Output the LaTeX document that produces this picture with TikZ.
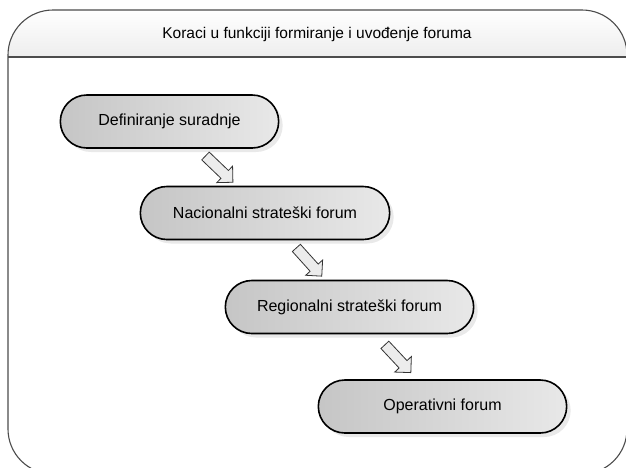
\documentclass[tikz,border=0pt]{standalone}
\usepackage{fontspec}
\setmainfont{Liberation Sans}
\usetikzlibrary{arrows,shapes.misc,shapes.arrows,shadows}

\tikzset{
  phase/.style={rounded rectangle, draw=black, line width=1.6pt,
                left color=gray!45, right color=gray!18,
                drop shadow={shadow xshift=4pt, shadow yshift=-4pt, fill=gray!50, opacity=.35},
                minimum height=53pt, font=\fontsize{16}{18}\selectfont},
  stepArrow/.style={single arrow, draw=black!80, line width=.8pt, fill=gray!15,
                    minimum height=38pt, inner sep=5pt, single arrow head extend=6pt}
}

\begin{document}
\begin{tikzpicture}[x=1pt,y=-1pt]
  \useasboundingbox (0,0) rectangle (626,467);
  \clip (0,0) rectangle (626,467);
  % frame with header
  \begin{scope}
    \clip[rounded corners=45pt] (8,10) rectangle (627,474);
    \shade[top color=white, bottom color=gray!14] (8,10) rectangle (627,57);
  \end{scope}
  \draw[gray!60!black, line width=1.1pt, rounded corners=45pt] (8,10) rectangle (627,474);
  \draw[gray!60!black, line width=1.1pt] (8,57) -- (627,57);
  \node (title) at (317,34) {\fontsize{15.5}{18}\selectfont Koraci u funkciji formiranje i uvođenje foruma};

  \node[phase, minimum width=225pt] (defin) at (169.5,121.5) {Definiranje suradnje};
  \node[phase, minimum width=256pt] (nacio) at (265,213) {Nacionalni strateški forum};
  \node[phase, minimum width=255pt] (regio) at (349.5,307) {Regionalni strateški forum};
  \node[phase, minimum width=255pt] (opera) at (442.5,406.5) {Operativni forum};

  \path (defin) -- node[stepArrow, sloped] (a1) {} (nacio);
  \path (nacio) -- node[stepArrow, sloped] (a2) {} (regio);
  \path (regio) -- node[stepArrow, sloped] (a3) {} (opera);
\end{tikzpicture}
\end{document}
